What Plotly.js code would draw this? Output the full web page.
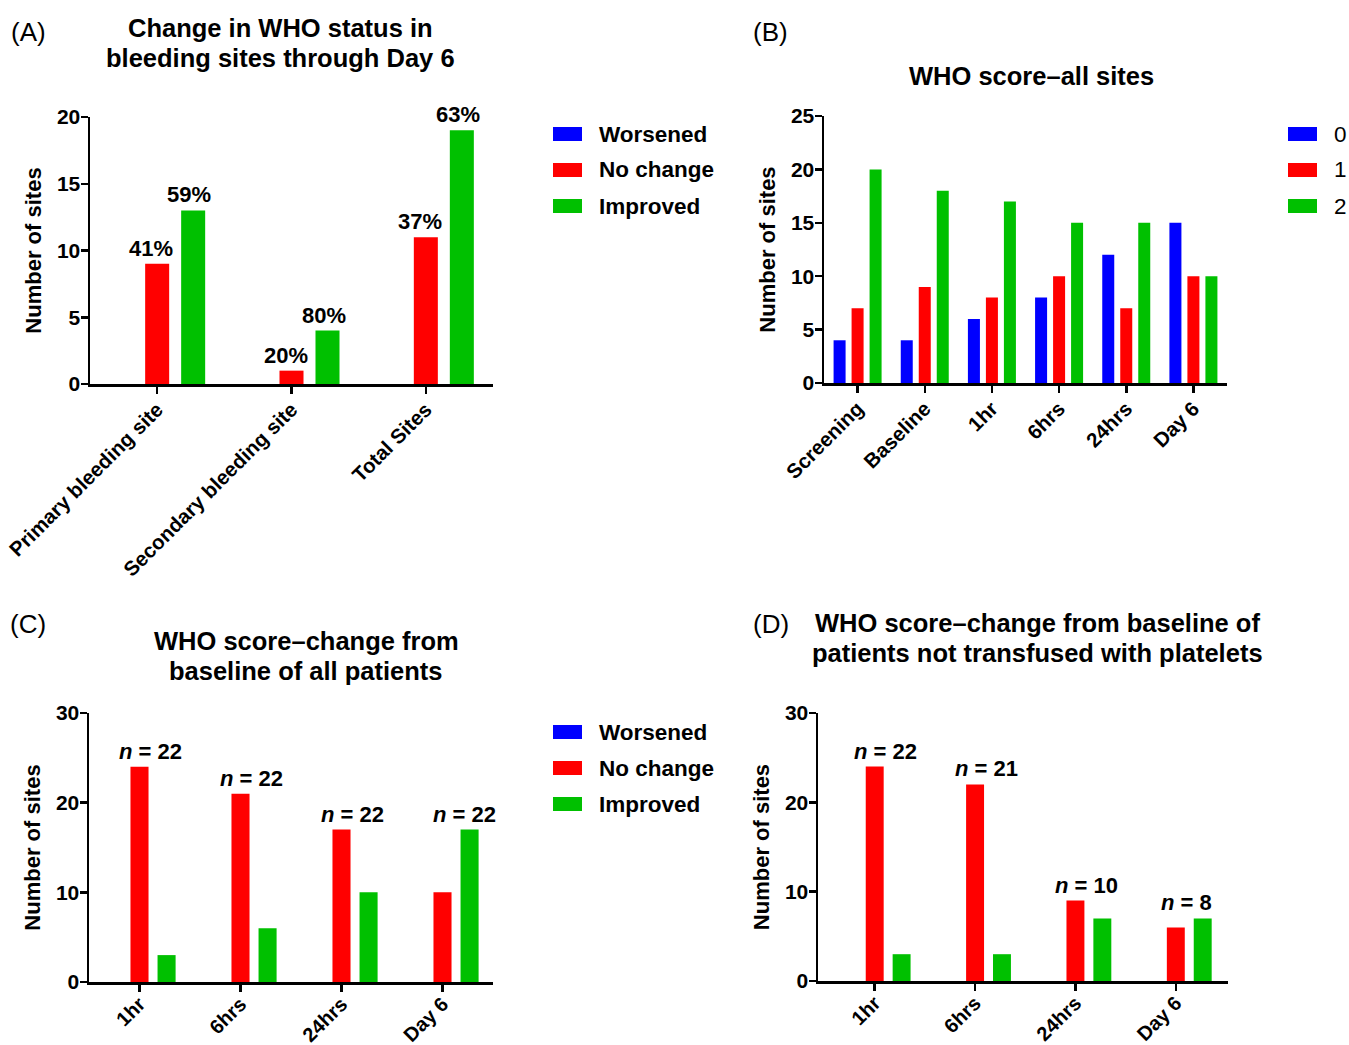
<!DOCTYPE html>
<html>
<head>
<meta charset="utf-8">
<script src="https://cdn.plot.ly/plotly-3.0.1.min.js"></script>
<style>html,body{margin:0;padding:0;background:#fff;}#chart{width:1349px;height:1045px;}</style>
</head>
<body>
<div id="chart"></div>
<script>
// ---------- DATA ----------
const changeSeries = ['Worsened', 'No change', 'Improved'];
const scoreSeries = ['0', '1', '2'];

// Panel A
const catsA = ['Primary bleeding site', 'Secondary bleeding site', 'Total Sites'];
const worsenedA = [0, 0, 0];
const noChangeA = [9, 1, 11];
const improvedA = [13, 4, 19];
const pctNoChangeA = ['41%', '20%', '37%'];
const pctImprovedA = ['59%', '80%', '63%'];

// Panel B
const catsB = ['Screening', 'Baseline', '1hr', '6hrs', '24hrs', 'Day 6'];
const score0B = [4, 4, 6, 8, 12, 15];
const score1B = [7, 9, 8, 10, 7, 10];
const score2B = [20, 18, 17, 15, 15, 10];

// Panel C
const catsC = ['1hr', '6hrs', '24hrs', 'Day 6'];
const worsenedC = [0, 0, 0, 0];
const noChangeC = [24, 21, 17, 10];
const improvedC = [3, 6, 10, 17];
const nC = [22, 22, 22, 22];

// Panel D
const catsD = ['1hr', '6hrs', '24hrs', 'Day 6'];
const worsenedD = [0, 0, 0, 0];
const noChangeD = [24, 22, 9, 6];
const improvedD = [3, 3, 7, 7];
const nD = [22, 21, 10, 8];

// Titles (one entry per line)
const titleA = ['Change in WHO status in', 'bleeding sites through Day 6'];
const titleB = ['WHO score\u2013all sites'];
const titleC = ['WHO score\u2013change from', 'baseline of all patients'];
const titleD = ['WHO score\u2013change from baseline of', 'patients not transfused with platelets'];

// ---------- STYLE ----------
const W = 1349, H = 1045;
const FONT = 'Liberation Sans, Arial, Helvetica, sans-serif';
const COLORS = ['#0000FF', '#FF0000', '#00C000'];
const BARGAP = 0.196, GROUPGAP = 0.333;
const px = x => x / W;
const py = y => 1 - y / H;

// panel boxes in pixels: [left, right, top, bottom]
const boxA = [90, 493, 117, 384];
const boxB = [824, 1227, 116, 383];
const boxC = [89, 493, 713, 982];
const boxD = [818, 1228, 713, 981];

const traces = [];
function addBars(cats, seriesVals, names, xa, ya) {
  seriesVals.forEach((vals, i) => {
    traces.push({
      type: 'bar', x: cats, y: vals, name: names[i],
      marker: {color: COLORS[i], line: {width: 0}},
      xaxis: xa, yaxis: ya, showlegend: false, hoverinfo: 'x+y+name'
    });
  });
}
addBars(catsA, [worsenedA, noChangeA, improvedA], changeSeries, 'x', 'y');
addBars(catsB, [score0B, score1B, score2B], scoreSeries, 'x2', 'y2');
addBars(catsC, [worsenedC, noChangeC, improvedC], changeSeries, 'x3', 'y3');
addBars(catsD, [worsenedD, noChangeD, improvedD], changeSeries, 'x4', 'y4');

function xAxis(box, range, anchor, standoff, fsize) {
  return {
    domain: [px(box[0]), px(box[1])], range: range, anchor: anchor,
    type: 'category', showline: true, linecolor: '#000', linewidth: 2.5,
    ticks: 'outside', ticklen: 7, tickwidth: 2.5, tickcolor: '#000',
    tickangle: -45, showgrid: false, zeroline: false, fixedrange: true,
    ticklabelstandoff: standoff,
    tickfont: {family: FONT, size: fsize, color: '#000', weight: 700}
  };
}
function yAxis(box, range, dtick, anchor) {
  return {
    domain: [py(box[3]), py(box[2])], range: range, anchor: anchor,
    dtick: dtick, tick0: 0, showline: true, linecolor: '#000', linewidth: 2.5,
    ticks: 'outside', ticklen: 7, tickwidth: 2.5, tickcolor: '#000',
    showgrid: false, zeroline: false, fixedrange: true,
    ticklabelstandoff: -4,
    tickfont: {family: FONT, size: 21, color: '#000', weight: 700},
    title: {text: 'Number of sites', standoff: 9,
            font: {family: FONT, size: 22, color: '#000', weight: 700}}
  };
}

const annotations = [];
const shapes = [];
function txt(x, y, text, opts) {
  annotations.push(Object.assign({
    xref: 'paper', yref: 'paper', x: px(x), y: py(y), text: text,
    showarrow: false, xanchor: 'center', yanchor: 'middle',
    font: {family: FONT, size: 25.5, color: '#000', weight: 700}
  }, opts || {}));
}
function title(x, yFirst, lines) {
  lines.forEach((l, i) => txt(x, yFirst + i * 30, l));
}

// panel letters
const letterFont = {family: FONT, size: 26, color: '#000'};
txt(28, 32, '(A)', {font: letterFont});
txt(771, 32, '(B)', {font: letterFont});
txt(28, 624, '(C)', {font: letterFont});
txt(771, 624, '(D)', {font: letterFont});

// titles
title(280, 28, titleA);
title(1031, 76, titleB);
title(306, 641, titleC);
title(1037, 623, titleD);

// legends (swatches + labels)
function legend(x0, yCenters, names, bold) {
  names.forEach((n, i) => {
    const yc = yCenters[i];
    shapes.push({type: 'rect', xref: 'paper', yref: 'paper',
      x0: px(x0), x1: px(x0 + 29), y0: py(yc + 7), y1: py(yc - 7),
      fillcolor: COLORS[i], line: {width: 0}});
    txt(x0 + 44, yc, n, {xanchor: 'left',
      font: {family: FONT, size: 22.5, color: '#000', weight: bold ? 700 : 400}});
  });
}
legend(553, [134, 170, 206], changeSeries, true);
legend(1288, [134, 170, 206], scoreSeries, false);
legend(553, [732, 768, 804], changeSeries, true);

// value labels
const slotA = (boxA[1] - boxA[0]) / catsA.length * (1 - BARGAP) / 3;
const labelFont = {family: FONT, size: 22, color: '#000', weight: 700};
catsA.forEach((c, k) => {
  annotations.push({xref: 'x', yref: 'y', x: c, y: noChangeA[k], text: pctNoChangeA[k],
    showarrow: false, yanchor: 'bottom', xanchor: 'center', xshift: -6, yshift: 1,
    font: labelFont});
  annotations.push({xref: 'x', yref: 'y', x: c, y: improvedA[k], text: pctImprovedA[k],
    showarrow: false, yanchor: 'bottom', xanchor: 'center', xshift: slotA - 4, yshift: 1,
    font: labelFont});
});
function nLabels(cats, red, green, ns, xa, ya) {
  cats.forEach((c, k) => {
    const top = Math.max(red[k], green[k]);
    const shift = green[k] > red[k] + 3 ? 22 : 11;
    annotations.push({xref: xa, yref: ya, x: c, y: top, text: '<i>n</i> = ' + ns[k],
      showarrow: false, yanchor: 'bottom', xanchor: 'center', xshift: shift, yshift: 1,
      font: labelFont});
  });
}
nLabels(catsC, noChangeC, improvedC, nC, 'x3', 'y3');
nLabels(catsD, noChangeD, improvedD, nD, 'x4', 'y4');

const layout = {
  width: W, height: H,
  margin: {l: 0, r: 0, t: 0, b: 0},
  paper_bgcolor: '#fff', plot_bgcolor: 'rgba(0,0,0,0)',
  barmode: 'group', bargap: BARGAP, bargroupgap: GROUPGAP,
  showlegend: false,
  font: {family: FONT, color: '#000'},
  xaxis: xAxis(boxA, [-0.5, 2.5], 'y', -4, 20.5),
  yaxis: yAxis(boxA, [0, 20], 5, 'x'),
  xaxis2: xAxis(boxB, [-0.5, 5.5], 'y2', -4, 20.5),
  yaxis2: yAxis(boxB, [0, 25], 5, 'x2'),
  xaxis3: xAxis(boxC, [-0.5, 3.5], 'y3', -7, 20),
  yaxis3: yAxis(boxC, [0, 30], 10, 'x3'),
  xaxis4: xAxis(boxD, [-0.565, 3.52], 'y4', -7, 20),
  yaxis4: yAxis(boxD, [0, 30], 10, 'x4'),
  annotations: annotations,
  shapes: shapes
};

Plotly.newPlot('chart', traces, layout, {displayModeBar: false, staticPlot: true});
</script>
</body>
</html>
